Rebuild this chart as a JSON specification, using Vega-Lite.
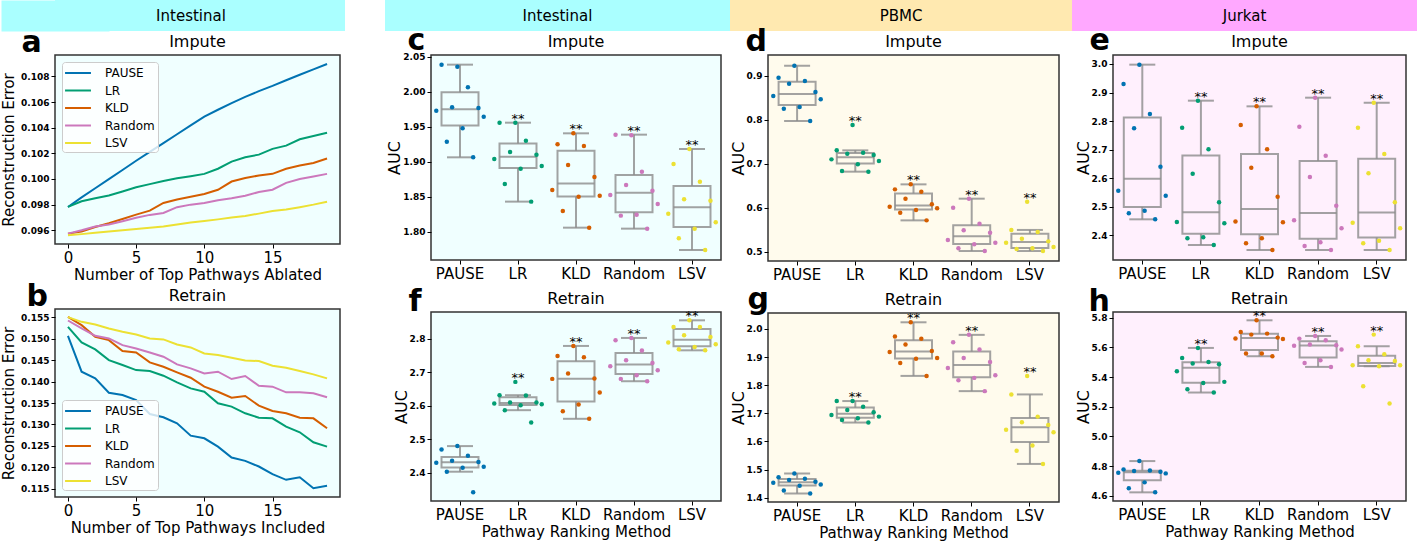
{
"$schema": "https://vega.github.io/schema/vega-lite/v6.json",
"padding": 0,
"background": "white",
"config": {
 "font": "DejaVu Sans",
 "view": {"stroke": "#333333", "strokeWidth": 1.5},
 "axis": {"domain": false, "grid": false, "tickColor": "#000000", "tickSize": 4, "labelColor": "#000000", "titleColor": "#000000", "titleFontWeight": "normal", "labelPadding": 2},
 "axisX": {"labelFontSize": 15, "titleFontSize": 15, "labelAngle": 0, "titlePadding": 2},
 "axisY": {"labelFontSize": 9, "labelFontWeight": "bold", "titleFontSize": 16, "titlePadding": 0},
 "title": {"fontSize": 16, "fontWeight": "normal", "color": "#000000", "offset": 3},
 "text": {"color": "#000000"}
},
"datasets": {
 "H": [{"g": "h1", "label": "Intestinal"}, {"g": "h2", "label": "Intestinal"}, {"g": "h3", "label": "PBMC"}, {"g": "h4", "label": "Jurkat"}],
 "L": [
  {"p":"a","m":"PAUSE","k":0,"v":0.09782},{"p":"a","m":"PAUSE","k":1,"v":0.09857},{"p":"a","m":"PAUSE","k":2,"v":0.09928},{"p":"a","m":"PAUSE","k":3,"v":0.09999},{"p":"a","m":"PAUSE","k":4,"v":0.10070},{"p":"a","m":"PAUSE","k":5,"v":0.10142},{"p":"a","m":"PAUSE","k":6,"v":0.10211},{"p":"a","m":"PAUSE","k":7,"v":0.10280},{"p":"a","m":"PAUSE","k":8,"v":0.10349},{"p":"a","m":"PAUSE","k":9,"v":0.10418},{"p":"a","m":"PAUSE","k":10,"v":0.10486},{"p":"a","m":"PAUSE","k":11,"v":0.10540},{"p":"a","m":"PAUSE","k":12,"v":0.10592},{"p":"a","m":"PAUSE","k":13,"v":0.10640},{"p":"a","m":"PAUSE","k":14,"v":0.10685},{"p":"a","m":"PAUSE","k":15,"v":0.10726},{"p":"a","m":"PAUSE","k":16,"v":0.10770},{"p":"a","m":"PAUSE","k":17,"v":0.10813},{"p":"a","m":"PAUSE","k":18,"v":0.10855},{"p":"a","m":"PAUSE","k":19,"v":0.10897},
  {"p":"a","m":"LR","k":0,"v":0.09782},{"p":"a","m":"LR","k":1,"v":0.09826},{"p":"a","m":"LR","k":2,"v":0.09850},{"p":"a","m":"LR","k":3,"v":0.09872},{"p":"a","m":"LR","k":4,"v":0.09903},{"p":"a","m":"LR","k":5,"v":0.09935},{"p":"a","m":"LR","k":6,"v":0.09960},{"p":"a","m":"LR","k":7,"v":0.09985},{"p":"a","m":"LR","k":8,"v":0.10005},{"p":"a","m":"LR","k":9,"v":0.10022},{"p":"a","m":"LR","k":10,"v":0.10040},{"p":"a","m":"LR","k":11,"v":0.10080},{"p":"a","m":"LR","k":12,"v":0.10136},{"p":"a","m":"LR","k":13,"v":0.10170},{"p":"a","m":"LR","k":14,"v":0.10190},{"p":"a","m":"LR","k":15,"v":0.10235},{"p":"a","m":"LR","k":16,"v":0.10260},{"p":"a","m":"LR","k":17,"v":0.10310},{"p":"a","m":"LR","k":18,"v":0.10335},{"p":"a","m":"LR","k":19,"v":0.10361},
  {"p":"a","m":"KLD","k":0,"v":0.09574},{"p":"a","m":"KLD","k":1,"v":0.09590},{"p":"a","m":"KLD","k":2,"v":0.09625},{"p":"a","m":"KLD","k":3,"v":0.09655},{"p":"a","m":"KLD","k":4,"v":0.09688},{"p":"a","m":"KLD","k":5,"v":0.09722},{"p":"a","m":"KLD","k":6,"v":0.09753},{"p":"a","m":"KLD","k":7,"v":0.09813},{"p":"a","m":"KLD","k":8,"v":0.09840},{"p":"a","m":"KLD","k":9,"v":0.09862},{"p":"a","m":"KLD","k":10,"v":0.09883},{"p":"a","m":"KLD","k":11,"v":0.09916},{"p":"a","m":"KLD","k":12,"v":0.09980},{"p":"a","m":"KLD","k":13,"v":0.10007},{"p":"a","m":"KLD","k":14,"v":0.10028},{"p":"a","m":"KLD","k":15,"v":0.10040},{"p":"a","m":"KLD","k":16,"v":0.10080},{"p":"a","m":"KLD","k":17,"v":0.10105},{"p":"a","m":"KLD","k":18,"v":0.10125},{"p":"a","m":"KLD","k":19,"v":0.10160},
  {"p":"a","m":"Random","k":0,"v":0.09574},{"p":"a","m":"Random","k":1,"v":0.09600},{"p":"a","m":"Random","k":2,"v":0.09630},{"p":"a","m":"Random","k":3,"v":0.09645},{"p":"a","m":"Random","k":4,"v":0.09670},{"p":"a","m":"Random","k":5,"v":0.09697},{"p":"a","m":"Random","k":6,"v":0.09720},{"p":"a","m":"Random","k":7,"v":0.09735},{"p":"a","m":"Random","k":8,"v":0.09780},{"p":"a","m":"Random","k":9,"v":0.09800},{"p":"a","m":"Random","k":10,"v":0.09813},{"p":"a","m":"Random","k":11,"v":0.09835},{"p":"a","m":"Random","k":12,"v":0.09850},{"p":"a","m":"Random","k":13,"v":0.09870},{"p":"a","m":"Random","k":14,"v":0.09898},{"p":"a","m":"Random","k":15,"v":0.09916},{"p":"a","m":"Random","k":16,"v":0.09970},{"p":"a","m":"Random","k":17,"v":0.10000},{"p":"a","m":"Random","k":18,"v":0.10020},{"p":"a","m":"Random","k":19,"v":0.10040},
  {"p":"a","m":"LSV","k":0,"v":0.09561},{"p":"a","m":"LSV","k":1,"v":0.09570},{"p":"a","m":"LSV","k":2,"v":0.09580},{"p":"a","m":"LSV","k":3,"v":0.09590},{"p":"a","m":"LSV","k":4,"v":0.09600},{"p":"a","m":"LSV","k":5,"v":0.09610},{"p":"a","m":"LSV","k":6,"v":0.09620},{"p":"a","m":"LSV","k":7,"v":0.09630},{"p":"a","m":"LSV","k":8,"v":0.09645},{"p":"a","m":"LSV","k":9,"v":0.09660},{"p":"a","m":"LSV","k":10,"v":0.09672},{"p":"a","m":"LSV","k":11,"v":0.09685},{"p":"a","m":"LSV","k":12,"v":0.09700},{"p":"a","m":"LSV","k":13,"v":0.09712},{"p":"a","m":"LSV","k":14,"v":0.09730},{"p":"a","m":"LSV","k":15,"v":0.09750},{"p":"a","m":"LSV","k":16,"v":0.09762},{"p":"a","m":"LSV","k":17,"v":0.09780},{"p":"a","m":"LSV","k":18,"v":0.09800},{"p":"a","m":"LSV","k":19,"v":0.09823},
  {"p":"b","m":"PAUSE","k":0,"v":0.15066},{"p":"b","m":"PAUSE","k":1,"v":0.14229},{"p":"b","m":"PAUSE","k":2,"v":0.14074},{"p":"b","m":"PAUSE","k":3,"v":0.13740},{"p":"b","m":"PAUSE","k":4,"v":0.13686},{"p":"b","m":"PAUSE","k":5,"v":0.13570},{"p":"b","m":"PAUSE","k":6,"v":0.13244},{"p":"b","m":"PAUSE","k":7,"v":0.13167},{"p":"b","m":"PAUSE","k":8,"v":0.13027},{"p":"b","m":"PAUSE","k":9,"v":0.12740},{"p":"b","m":"PAUSE","k":10,"v":0.12678},{"p":"b","m":"PAUSE","k":11,"v":0.12484},{"p":"b","m":"PAUSE","k":12,"v":0.12229},{"p":"b","m":"PAUSE","k":13,"v":0.12151},{"p":"b","m":"PAUSE","k":14,"v":0.12020},{"p":"b","m":"PAUSE","k":15,"v":0.11841},{"p":"b","m":"PAUSE","k":16,"v":0.11710},{"p":"b","m":"PAUSE","k":17,"v":0.11771},{"p":"b","m":"PAUSE","k":18,"v":0.11516},{"p":"b","m":"PAUSE","k":19,"v":0.11570},
  {"p":"b","m":"LR","k":0,"v":0.15275},{"p":"b","m":"LR","k":1,"v":0.14911},{"p":"b","m":"LR","k":2,"v":0.14748},{"p":"b","m":"LR","k":3,"v":0.14500},{"p":"b","m":"LR","k":4,"v":0.14384},{"p":"b","m":"LR","k":5,"v":0.14267},{"p":"b","m":"LR","k":6,"v":0.14244},{"p":"b","m":"LR","k":7,"v":0.14136},{"p":"b","m":"LR","k":8,"v":0.13980},{"p":"b","m":"LR","k":9,"v":0.13840},{"p":"b","m":"LR","k":10,"v":0.13763},{"p":"b","m":"LR","k":11,"v":0.13492},{"p":"b","m":"LR","k":12,"v":0.13415},{"p":"b","m":"LR","k":13,"v":0.13260},{"p":"b","m":"LR","k":14,"v":0.13159},{"p":"b","m":"LR","k":15,"v":0.13143},{"p":"b","m":"LR","k":16,"v":0.12950},{"p":"b","m":"LR","k":17,"v":0.12818},{"p":"b","m":"LR","k":18,"v":0.12585},{"p":"b","m":"LR","k":19,"v":0.12484},
  {"p":"b","m":"KLD","k":0,"v":0.15508},{"p":"b","m":"KLD","k":1,"v":0.15314},{"p":"b","m":"KLD","k":2,"v":0.15043},{"p":"b","m":"KLD","k":3,"v":0.14965},{"p":"b","m":"KLD","k":4,"v":0.14709},{"p":"b","m":"KLD","k":5,"v":0.14678},{"p":"b","m":"KLD","k":6,"v":0.14446},{"p":"b","m":"KLD","k":7,"v":0.14345},{"p":"b","m":"KLD","k":8,"v":0.14213},{"p":"b","m":"KLD","k":9,"v":0.14089},{"p":"b","m":"KLD","k":10,"v":0.13880},{"p":"b","m":"KLD","k":11,"v":0.13763},{"p":"b","m":"KLD","k":12,"v":0.13624},{"p":"b","m":"KLD","k":13,"v":0.13663},{"p":"b","m":"KLD","k":14,"v":0.13438},{"p":"b","m":"KLD","k":15,"v":0.13314},{"p":"b","m":"KLD","k":16,"v":0.13260},{"p":"b","m":"KLD","k":17,"v":0.13159},{"p":"b","m":"KLD","k":18,"v":0.13143},{"p":"b","m":"KLD","k":19,"v":0.12911},
  {"p":"b","m":"Random","k":0,"v":0.15422},{"p":"b","m":"Random","k":1,"v":0.15236},{"p":"b","m":"Random","k":2,"v":0.15066},{"p":"b","m":"Random","k":3,"v":0.15004},{"p":"b","m":"Random","k":4,"v":0.14849},{"p":"b","m":"Random","k":5,"v":0.14771},{"p":"b","m":"Random","k":6,"v":0.14678},{"p":"b","m":"Random","k":7,"v":0.14578},{"p":"b","m":"Random","k":8,"v":0.14400},{"p":"b","m":"Random","k":9,"v":0.14306},{"p":"b","m":"Random","k":10,"v":0.14190},{"p":"b","m":"Random","k":11,"v":0.14229},{"p":"b","m":"Random","k":12,"v":0.14058},{"p":"b","m":"Random","k":13,"v":0.14128},{"p":"b","m":"Random","k":14,"v":0.13903},{"p":"b","m":"Random","k":15,"v":0.13880},{"p":"b","m":"Random","k":16,"v":0.13748},{"p":"b","m":"Random","k":17,"v":0.13748},{"p":"b","m":"Random","k":18,"v":0.13725},{"p":"b","m":"Random","k":19,"v":0.13632},
  {"p":"b","m":"LSV","k":0,"v":0.15500},{"p":"b","m":"LSV","k":1,"v":0.15391},{"p":"b","m":"LSV","k":2,"v":0.15329},{"p":"b","m":"LSV","k":3,"v":0.15236},{"p":"b","m":"LSV","k":4,"v":0.15159},{"p":"b","m":"LSV","k":5,"v":0.15097},{"p":"b","m":"LSV","k":6,"v":0.15004},{"p":"b","m":"LSV","k":7,"v":0.14981},{"p":"b","m":"LSV","k":8,"v":0.14864},{"p":"b","m":"LSV","k":9,"v":0.14795},{"p":"b","m":"LSV","k":10,"v":0.14655},{"p":"b","m":"LSV","k":11,"v":0.14616},{"p":"b","m":"LSV","k":12,"v":0.14554},{"p":"b","m":"LSV","k":13,"v":0.14492},{"p":"b","m":"LSV","k":14,"v":0.14477},{"p":"b","m":"LSV","k":15,"v":0.14368},{"p":"b","m":"LSV","k":16,"v":0.14322},{"p":"b","m":"LSV","k":17,"v":0.14244},{"p":"b","m":"LSV","k":18,"v":0.14167},{"p":"b","m":"LSV","k":19,"v":0.14074}
 ],
 "B": [
  {"p":"c","m":"PAUSE","r":1,"v":2.0357},{"p":"c","m":"PAUSE","r":2,"v":2.0386},{"p":"c","m":"PAUSE","r":3,"v":2.0062},{"p":"c","m":"PAUSE","r":4,"v":1.9776},{"p":"c","m":"PAUSE","r":5,"v":1.9767},{"p":"c","m":"PAUSE","r":6,"v":1.9729},{"p":"c","m":"PAUSE","r":7,"v":1.9643},{"p":"c","m":"PAUSE","r":8,"v":1.9476},{"p":"c","m":"PAUSE","r":9,"v":1.9286},{"p":"c","m":"PAUSE","r":10,"v":1.9062},
  {"p":"c","m":"LR","r":1,"v":1.9557},{"p":"c","m":"LR","r":2,"v":1.9557},{"p":"c","m":"LR","r":3,"v":1.9300},{"p":"c","m":"LR","r":4,"v":1.9138},{"p":"c","m":"LR","r":5,"v":1.9100},{"p":"c","m":"LR","r":6,"v":1.9038},{"p":"c","m":"LR","r":7,"v":1.8938},{"p":"c","m":"LR","r":8,"v":1.8900},{"p":"c","m":"LR","r":9,"v":1.8681},{"p":"c","m":"LR","r":10,"v":1.8429},
  {"p":"c","m":"KLD","r":1,"v":1.9405},{"p":"c","m":"KLD","r":2,"v":1.9248},{"p":"c","m":"KLD","r":3,"v":1.9224},{"p":"c","m":"KLD","r":4,"v":1.8952},{"p":"c","m":"KLD","r":5,"v":1.8781},{"p":"c","m":"KLD","r":6,"v":1.8595},{"p":"c","m":"KLD","r":7,"v":1.8514},{"p":"c","m":"KLD","r":8,"v":1.8500},{"p":"c","m":"KLD","r":9,"v":1.8295},{"p":"c","m":"KLD","r":10,"v":1.8057},
  {"p":"c","m":"Random","r":1,"v":1.9376},{"p":"c","m":"Random","r":2,"v":1.9386},{"p":"c","m":"Random","r":3,"v":1.8857},{"p":"c","m":"Random","r":4,"v":1.8667},{"p":"c","m":"Random","r":5,"v":1.8586},{"p":"c","m":"Random","r":6,"v":1.8524},{"p":"c","m":"Random","r":7,"v":1.8395},{"p":"c","m":"Random","r":8,"v":1.8240},{"p":"c","m":"Random","r":9,"v":1.8229},{"p":"c","m":"Random","r":10,"v":1.8043},
  {"p":"c","m":"LSV","r":1,"v":1.9181},{"p":"c","m":"LSV","r":2,"v":1.8967},{"p":"c","m":"LSV","r":3,"v":1.8714},{"p":"c","m":"LSV","r":4,"v":1.8462},{"p":"c","m":"LSV","r":5,"v":1.8443},{"p":"c","m":"LSV","r":6,"v":1.8257},{"p":"c","m":"LSV","r":7,"v":1.8133},{"p":"c","m":"LSV","r":8,"v":1.8043},{"p":"c","m":"LSV","r":9,"v":1.7905},{"p":"c","m":"LSV","r":10,"v":1.7738},
  {"p":"f","m":"PAUSE","r":1,"v":2.4796},{"p":"f","m":"PAUSE","r":2,"v":2.4697},{"p":"f","m":"PAUSE","r":3,"v":2.4507},{"p":"f","m":"PAUSE","r":4,"v":2.4358},{"p":"f","m":"PAUSE","r":5,"v":2.4320},{"p":"f","m":"PAUSE","r":6,"v":2.4300},{"p":"f","m":"PAUSE","r":7,"v":2.4179},{"p":"f","m":"PAUSE","r":8,"v":2.4149},{"p":"f","m":"PAUSE","r":9,"v":2.4030},{"p":"f","m":"PAUSE","r":10,"v":2.3413},
  {"p":"f","m":"LR","r":1,"v":2.6716},{"p":"f","m":"LR","r":2,"v":2.6318},{"p":"f","m":"LR","r":3,"v":2.6308},{"p":"f","m":"LR","r":4,"v":2.6100},{"p":"f","m":"LR","r":5,"v":2.6100},{"p":"f","m":"LR","r":6,"v":2.6070},{"p":"f","m":"LR","r":7,"v":2.6050},{"p":"f","m":"LR","r":8,"v":2.6020},{"p":"f","m":"LR","r":9,"v":2.5870},{"p":"f","m":"LR","r":10,"v":2.5502},
  {"p":"f","m":"KLD","r":1,"v":2.7791},{"p":"f","m":"KLD","r":2,"v":2.7493},{"p":"f","m":"KLD","r":3,"v":2.7453},{"p":"f","m":"KLD","r":4,"v":2.6965},{"p":"f","m":"KLD","r":5,"v":2.6816},{"p":"f","m":"KLD","r":6,"v":2.6806},{"p":"f","m":"KLD","r":7,"v":2.6398},{"p":"f","m":"KLD","r":8,"v":2.6040},{"p":"f","m":"KLD","r":9,"v":2.5841},{"p":"f","m":"KLD","r":10,"v":2.5612},
  {"p":"f","m":"Random","r":1,"v":2.8030},{"p":"f","m":"Random","r":2,"v":2.7960},{"p":"f","m":"Random","r":3,"v":2.7652},{"p":"f","m":"Random","r":4,"v":2.7363},{"p":"f","m":"Random","r":5,"v":2.7284},{"p":"f","m":"Random","r":6,"v":2.7184},{"p":"f","m":"Random","r":7,"v":2.7065},{"p":"f","m":"Random","r":8,"v":2.6915},{"p":"f","m":"Random","r":9,"v":2.6806},{"p":"f","m":"Random","r":10,"v":2.6736},
  {"p":"f","m":"LSV","r":1,"v":2.8557},{"p":"f","m":"LSV","r":2,"v":2.8358},{"p":"f","m":"LSV","r":3,"v":2.8358},{"p":"f","m":"LSV","r":4,"v":2.8109},{"p":"f","m":"LSV","r":5,"v":2.8060},{"p":"f","m":"LSV","r":6,"v":2.7891},{"p":"f","m":"LSV","r":7,"v":2.7841},{"p":"f","m":"LSV","r":8,"v":2.7761},{"p":"f","m":"LSV","r":9,"v":2.7692},{"p":"f","m":"LSV","r":10,"v":2.7660},
  {"p":"d","m":"PAUSE","r":1,"v":0.9235},{"p":"d","m":"PAUSE","r":2,"v":0.8962},{"p":"d","m":"PAUSE","r":3,"v":0.8886},{"p":"d","m":"PAUSE","r":4,"v":0.8825},{"p":"d","m":"PAUSE","r":5,"v":0.8636},{"p":"d","m":"PAUSE","r":6,"v":0.8545},{"p":"d","m":"PAUSE","r":7,"v":0.8469},{"p":"d","m":"PAUSE","r":8,"v":0.8294},{"p":"d","m":"PAUSE","r":9,"v":0.8256},{"p":"d","m":"PAUSE","r":10,"v":0.7975},
  {"p":"d","m":"LR","r":1,"v":0.7884},{"p":"d","m":"LR","r":2,"v":0.7307},{"p":"d","m":"LR","r":3,"v":0.7254},{"p":"d","m":"LR","r":4,"v":0.7231},{"p":"d","m":"LR","r":5,"v":0.7201},{"p":"d","m":"LR","r":6,"v":0.7102},{"p":"d","m":"LR","r":7,"v":0.7065},{"p":"d","m":"LR","r":8,"v":0.6989},{"p":"d","m":"LR","r":9,"v":0.6837},{"p":"d","m":"LR","r":10,"v":0.6822},
  {"p":"d","m":"KLD","r":1,"v":0.6533},{"p":"d","m":"KLD","r":2,"v":0.6419},{"p":"d","m":"KLD","r":3,"v":0.6366},{"p":"d","m":"KLD","r":4,"v":0.6207},{"p":"d","m":"KLD","r":5,"v":0.6078},{"p":"d","m":"KLD","r":6,"v":0.6025},{"p":"d","m":"KLD","r":7,"v":0.5987},{"p":"d","m":"KLD","r":8,"v":0.5949},{"p":"d","m":"KLD","r":9,"v":0.5888},{"p":"d","m":"KLD","r":10,"v":0.5713},
  {"p":"d","m":"Random","r":1,"v":0.6207},{"p":"d","m":"Random","r":2,"v":0.6002},{"p":"d","m":"Random","r":3,"v":0.5638},{"p":"d","m":"Random","r":4,"v":0.5486},{"p":"d","m":"Random","r":5,"v":0.5433},{"p":"d","m":"Random","r":6,"v":0.5266},{"p":"d","m":"Random","r":7,"v":0.5205},{"p":"d","m":"Random","r":8,"v":0.5167},{"p":"d","m":"Random","r":9,"v":0.5076},{"p":"d","m":"Random","r":10,"v":0.5015},
  {"p":"d","m":"LSV","r":1,"v":0.6138},{"p":"d","m":"LSV","r":2,"v":0.5495},{"p":"d","m":"LSV","r":3,"v":0.5449},{"p":"d","m":"LSV","r":4,"v":0.5296},{"p":"d","m":"LSV","r":5,"v":0.5235},{"p":"d","m":"LSV","r":6,"v":0.5205},{"p":"d","m":"LSV","r":7,"v":0.5106},{"p":"d","m":"LSV","r":8,"v":0.5076},{"p":"d","m":"LSV","r":9,"v":0.5061},{"p":"d","m":"LSV","r":10,"v":0.5015},
  {"p":"g","m":"PAUSE","r":1,"v":1.4859},{"p":"g","m":"PAUSE","r":2,"v":1.4729},{"p":"g","m":"PAUSE","r":3,"v":1.4677},{"p":"g","m":"PAUSE","r":4,"v":1.4628},{"p":"g","m":"PAUSE","r":5,"v":1.4569},{"p":"g","m":"PAUSE","r":6,"v":1.4534},{"p":"g","m":"PAUSE","r":7,"v":1.4467},{"p":"g","m":"PAUSE","r":8,"v":1.4423},{"p":"g","m":"PAUSE","r":9,"v":1.4259},{"p":"g","m":"PAUSE","r":10,"v":1.4153},
  {"p":"g","m":"LR","r":1,"v":1.7435},{"p":"g","m":"LR","r":2,"v":1.7435},{"p":"g","m":"LR","r":3,"v":1.7235},{"p":"g","m":"LR","r":4,"v":1.7118},{"p":"g","m":"LR","r":5,"v":1.7035},{"p":"g","m":"LR","r":6,"v":1.6941},{"p":"g","m":"LR","r":7,"v":1.6882},{"p":"g","m":"LR","r":8,"v":1.6824},{"p":"g","m":"LR","r":9,"v":1.6765},{"p":"g","m":"LR","r":10,"v":1.6671},
  {"p":"g","m":"KLD","r":1,"v":2.0235},{"p":"g","m":"KLD","r":2,"v":1.9729},{"p":"g","m":"KLD","r":3,"v":1.9647},{"p":"g","m":"KLD","r":4,"v":1.9447},{"p":"g","m":"KLD","r":5,"v":1.9212},{"p":"g","m":"KLD","r":6,"v":1.9176},{"p":"g","m":"KLD","r":7,"v":1.8965},{"p":"g","m":"KLD","r":8,"v":1.8941},{"p":"g","m":"KLD","r":9,"v":1.8788},{"p":"g","m":"KLD","r":10,"v":1.8329},
  {"p":"g","m":"Random","r":1,"v":1.9788},{"p":"g","m":"Random","r":2,"v":1.9529},{"p":"g","m":"Random","r":3,"v":1.9271},{"p":"g","m":"Random","r":4,"v":1.8965},{"p":"g","m":"Random","r":5,"v":1.8824},{"p":"g","m":"Random","r":6,"v":1.8612},{"p":"g","m":"Random","r":7,"v":1.8353},{"p":"g","m":"Random","r":8,"v":1.8259},{"p":"g","m":"Random","r":9,"v":1.8176},{"p":"g","m":"Random","r":10,"v":1.7788},
  {"p":"g","m":"LSV","r":1,"v":1.8329},{"p":"g","m":"LSV","r":2,"v":1.7671},{"p":"g","m":"LSV","r":3,"v":1.6882},{"p":"g","m":"LSV","r":4,"v":1.6682},{"p":"g","m":"LSV","r":5,"v":1.6588},{"p":"g","m":"LSV","r":6,"v":1.6412},{"p":"g","m":"LSV","r":7,"v":1.6329},{"p":"g","m":"LSV","r":8,"v":1.5859},{"p":"g","m":"LSV","r":9,"v":1.5671},{"p":"g","m":"LSV","r":10,"v":1.5200},
  {"p":"e","m":"PAUSE","r":1,"v":2.9977},{"p":"e","m":"PAUSE","r":2,"v":2.9300},{"p":"e","m":"PAUSE","r":3,"v":2.8250},{"p":"e","m":"PAUSE","r":4,"v":2.7748},{"p":"e","m":"PAUSE","r":5,"v":2.6406},{"p":"e","m":"PAUSE","r":6,"v":2.5566},{"p":"e","m":"PAUSE","r":7,"v":2.5391},{"p":"e","m":"PAUSE","r":8,"v":2.4866},{"p":"e","m":"PAUSE","r":9,"v":2.4773},{"p":"e","m":"PAUSE","r":10,"v":2.4563},
  {"p":"e","m":"LR","r":1,"v":2.8716},{"p":"e","m":"LR","r":2,"v":2.7771},{"p":"e","m":"LR","r":3,"v":2.7013},{"p":"e","m":"LR","r":4,"v":2.6161},{"p":"e","m":"LR","r":5,"v":2.5158},{"p":"e","m":"LR","r":6,"v":2.4469},{"p":"e","m":"LR","r":7,"v":2.4422},{"p":"e","m":"LR","r":8,"v":2.3932},{"p":"e","m":"LR","r":9,"v":2.3897},{"p":"e","m":"LR","r":10,"v":2.3664},
  {"p":"e","m":"KLD","r":1,"v":2.8518},{"p":"e","m":"KLD","r":2,"v":2.7865},{"p":"e","m":"KLD","r":3,"v":2.7013},{"p":"e","m":"KLD","r":4,"v":2.6371},{"p":"e","m":"KLD","r":5,"v":2.5356},{"p":"e","m":"KLD","r":6,"v":2.4484},{"p":"e","m":"KLD","r":7,"v":2.4457},{"p":"e","m":"KLD","r":8,"v":2.3897},{"p":"e","m":"KLD","r":9,"v":2.3722},{"p":"e","m":"KLD","r":10,"v":2.3489},
  {"p":"e","m":"Random","r":1,"v":2.8821},{"p":"e","m":"Random","r":2,"v":2.7806},{"p":"e","m":"Random","r":3,"v":2.6791},{"p":"e","m":"Random","r":4,"v":2.6044},{"p":"e","m":"Random","r":5,"v":2.5041},{"p":"e","m":"Random","r":6,"v":2.4527},{"p":"e","m":"Random","r":7,"v":2.4247},{"p":"e","m":"Random","r":8,"v":2.3757},{"p":"e","m":"Random","r":9,"v":2.3629},{"p":"e","m":"Random","r":10,"v":2.3489},
  {"p":"e","m":"LSV","r":1,"v":2.8646},{"p":"e","m":"LSV","r":2,"v":2.7771},{"p":"e","m":"LSV","r":3,"v":2.6849},{"p":"e","m":"LSV","r":4,"v":2.6173},{"p":"e","m":"LSV","r":5,"v":2.5158},{"p":"e","m":"LSV","r":6,"v":2.4446},{"p":"e","m":"LSV","r":7,"v":2.4247},{"p":"e","m":"LSV","r":8,"v":2.3816},{"p":"e","m":"LSV","r":9,"v":2.3722},{"p":"e","m":"LSV","r":10,"v":2.3489},
  {"p":"h","m":"PAUSE","r":1,"v":4.8336},{"p":"h","m":"PAUSE","r":2,"v":4.7776},{"p":"h","m":"PAUSE","r":3,"v":4.7700},{"p":"h","m":"PAUSE","r":4,"v":4.7664},{"p":"h","m":"PAUSE","r":5,"v":4.7619},{"p":"h","m":"PAUSE","r":6,"v":4.7552},{"p":"h","m":"PAUSE","r":7,"v":4.7507},{"p":"h","m":"PAUSE","r":8,"v":4.6901},{"p":"h","m":"PAUSE","r":9,"v":4.6498},{"p":"h","m":"PAUSE","r":10,"v":4.6229},
  {"p":"h","m":"LR","r":1,"v":5.5960},{"p":"h","m":"LR","r":2,"v":5.5287},{"p":"h","m":"LR","r":3,"v":5.5018},{"p":"h","m":"LR","r":4,"v":5.4906},{"p":"h","m":"LR","r":5,"v":5.4861},{"p":"h","m":"LR","r":6,"v":5.4390},{"p":"h","m":"LR","r":7,"v":5.3673},{"p":"h","m":"LR","r":8,"v":5.3600},{"p":"h","m":"LR","r":9,"v":5.3180},{"p":"h","m":"LR","r":10,"v":5.2955},
  {"p":"h","m":"KLD","r":1,"v":5.7821},{"p":"h","m":"KLD","r":2,"v":5.7036},{"p":"h","m":"KLD","r":3,"v":5.6924},{"p":"h","m":"KLD","r":4,"v":5.6857},{"p":"h","m":"KLD","r":5,"v":5.6655},{"p":"h","m":"KLD","r":6,"v":5.6600},{"p":"h","m":"KLD","r":7,"v":5.6565},{"p":"h","m":"KLD","r":8,"v":5.5578},{"p":"h","m":"KLD","r":9,"v":5.5578},{"p":"h","m":"KLD","r":10,"v":5.5400},
  {"p":"h","m":"Random","r":1,"v":5.6767},{"p":"h","m":"Random","r":2,"v":5.6587},{"p":"h","m":"Random","r":3,"v":5.6475},{"p":"h","m":"Random","r":4,"v":5.6184},{"p":"h","m":"Random","r":5,"v":5.6139},{"p":"h","m":"Random","r":6,"v":5.6100},{"p":"h","m":"Random","r":7,"v":5.5848},{"p":"h","m":"Random","r":8,"v":5.5130},{"p":"h","m":"Random","r":9,"v":5.4951},{"p":"h","m":"Random","r":10,"v":5.4682},
  {"p":"h","m":"LSV","r":1,"v":5.6857},{"p":"h","m":"LSV","r":2,"v":5.6072},{"p":"h","m":"LSV","r":3,"v":5.5534},{"p":"h","m":"LSV","r":4,"v":5.5130},{"p":"h","m":"LSV","r":5,"v":5.5085},{"p":"h","m":"LSV","r":6,"v":5.4800},{"p":"h","m":"LSV","r":7,"v":5.4794},{"p":"h","m":"LSV","r":8,"v":5.4727},{"p":"h","m":"LSV","r":9,"v":5.3381},{"p":"h","m":"LSV","r":10,"v":5.2215}
 ]
},
"columns": 1,
"align": "none",
"spacing": -7,
"resolve": {"scale": {"color": "independent"}, "legend": {"color": "independent"}},
"concat": [
 {
  "spacing": 40,
  "hconcat": [
   {"width": 290, "height": 31, "view": {"fill": "#aaffff", "stroke": null}, "data": {"name": "H"}, "transform": [{"filter": "datum.g == 'h1'"}], "mark": {"type": "text", "fontSize": 15, "dx": -9},
    "encoding": {"text": {"field": "label"}, "y": {"field": "label", "type": "nominal", "axis": {"orient": "left", "domain": true, "domainColor": "#aaffff", "domainWidth": 108, "ticks": false, "labels": false, "title": null, "grid": false}}}},
   {
    "spacing": 0,
    "hconcat": [
     {"width": 345, "height": 31, "view": {"fill": "#aaffff", "stroke": null}, "data": {"name": "H"}, "transform": [{"filter": "datum.g == 'h2'"}], "mark": {"type": "text", "fontSize": 15}, "encoding": {"text": {"field": "label"}}},
     {"width": 342, "height": 31, "view": {"fill": "#ffe9b0", "stroke": null}, "data": {"name": "H"}, "transform": [{"filter": "datum.g == 'h3'"}], "mark": {"type": "text", "fontSize": 15}, "encoding": {"text": {"field": "label"}}},
     {"width": 345, "height": 31, "view": {"fill": "#ffa8ff", "stroke": null}, "data": {"name": "H"}, "transform": [{"filter": "datum.g == 'h4'"}], "mark": {"type": "text", "fontSize": 15}, "encoding": {"text": {"field": "label"}}}
    ]
   }
  ]
 },
 {
  "spacing": 45,
  "resolve": {"scale": {"color": "independent"}, "legend": {"color": "independent"}},
  "hconcat": [
   {
    "spacing": -3,
    "resolve": {"scale": {"color": "independent"}, "legend": {"color": "independent"}},
    "vconcat": [
     {
      "width": 285, "height": 189,
      "view": {"fill": "#f0ffff"},
      "title": {"text": "Impute", "offset": -23},
      "data": {"name": "L"},
      "transform": [{"filter": "datum.p == 'a'"}],
      "encoding": {"x": {"field": "k", "type": "quantitative", "scale": {"domain": [-0.95, 19.95], "nice": false, "zero": false}, "axis": {"values": [0, 5, 10, 15], "title": "Number of Top Pathways Ablated"}}},
      "layer": [
       {"mark": {"type": "line", "strokeWidth": 2},
        "encoding": {
         "y": {"field": "v", "type": "quantitative", "scale": {"domain": [0.09493, 0.10967], "nice": false, "zero": false}, "axis": {"values": [0.096, 0.098, 0.1, 0.102, 0.104, 0.106, 0.108], "format": ".3f", "title": "Reconstruction Error", "titleFontSize": 15, "titlePadding": 4}},
         "color": {"field": "m", "type": "nominal", "scale": {"domain": ["PAUSE", "LR", "KLD", "Random", "LSV"], "range": ["#0173b2", "#029e73", "#d55e00", "#cc78bc", "#ece133"]},
          "legend": {"title": null, "orient": "top-left", "offset": 7, "padding": 3, "fillColor": "rgba(255,255,255,0.8)", "strokeColor": "#cccccc", "cornerRadius": 3, "symbolType": "M-1.85,0L1.85,0", "symbolSize": 196, "symbolStrokeWidth": 2, "symbolOffset": 5, "labelFontSize": 12, "labelOffset": 19, "rowPadding": 3.5, "labelColor": "#000000"}}
        }},
       {"mark": {"type": "point", "opacity": 0},
        "encoding": {"y": {"field": "v", "type": "quantitative", "axis": {"orient": "left", "title": "a", "titleAngle": 0, "titleX": -34, "titleY": -4, "titleAlign": "left", "titleBaseline": "alphabetic", "titleFontSize": 30, "titleFontWeight": "bold", "labels": false, "ticks": false, "domain": false}}}}
      ],
      "resolve": {"axis": {"y": "independent"}}
     },
     {
      "width": 285, "height": 188,
      "view": {"fill": "#f0ffff"},
      "title": {"text": "Retrain", "offset": -23},
      "data": {"name": "L"},
      "transform": [{"filter": "datum.p == 'b'"}],
      "encoding": {"x": {"field": "k", "type": "quantitative", "scale": {"domain": [-0.95, 19.95], "nice": false, "zero": false}, "axis": {"values": [0, 5, 10, 15], "title": "Number of Top Pathways Included"}}},
      "layer": [
       {"mark": {"type": "line", "strokeWidth": 2},
        "encoding": {
         "y": {"field": "v", "type": "quantitative", "scale": {"domain": [0.1131, 0.1569], "nice": false, "zero": false}, "axis": {"values": [0.115, 0.12, 0.125, 0.13, 0.135, 0.14, 0.145, 0.15, 0.155], "format": ".3f", "title": "Reconstruction Error", "titleFontSize": 15, "titlePadding": 4}},
         "color": {"field": "m", "type": "nominal", "scale": {"domain": ["PAUSE", "LR", "KLD", "Random", "LSV"], "range": ["#0173b2", "#029e73", "#d55e00", "#cc78bc", "#ece133"]},
          "legend": {"title": null, "orient": "bottom-left", "offset": 7, "padding": 3, "fillColor": "rgba(255,255,255,0.8)", "strokeColor": "#cccccc", "cornerRadius": 3, "symbolType": "M-1.85,0L1.85,0", "symbolSize": 196, "symbolStrokeWidth": 2, "symbolOffset": 5, "labelFontSize": 12, "labelOffset": 19, "rowPadding": 3.5, "labelColor": "#000000"}}
        }},
       {"mark": {"type": "point", "opacity": 0},
        "encoding": {"y": {"field": "v", "type": "quantitative", "axis": {"orient": "left", "title": "b", "titleAngle": 0, "titleX": -29, "titleY": -4, "titleAlign": "left", "titleBaseline": "alphabetic", "titleFontSize": 30, "titleFontWeight": "bold", "labels": false, "ticks": false, "domain": false}}}}
      ],
      "resolve": {"axis": {"y": "independent"}}
     }
    ]
   },
   {
    "spacing": 7,
    "resolve": {"scale": {"color": "independent"}, "legend": {"color": "independent"}},
    "hconcat": [
     {
      "spacing": 3,
      "resolve": {"scale": {"color": "independent"}, "legend": {"color": "independent"}},
      "vconcat": [
       {
        "width": 290, "height": 205, "view": {"fill": "#f0ffff"}, "title": {"text": "Impute", "offset": -25},
        "data": {"name": "B"}, "transform": [{"filter": "datum.p == 'c'"}],
        "encoding": {"x": {"field": "m", "type": "nominal", "sort": ["PAUSE", "LR", "KLD", "Random", "LSV"], "scale": {"paddingInner": 0, "paddingOuter": 0}, "axis": {"title": null}}},
        "layer": [
         {"mark": {"type": "boxplot", "extent": 1.5, "size": 37, "outliers": false, "box": {"fill": "transparent", "stroke": "#8c8c8c", "strokeWidth": 2, "strokeOpacity": 0.8}, "median": {"color": "#8c8c8c", "thickness": 2, "opacity": 0.8}, "rule": {"stroke": "#8c8c8c", "strokeWidth": 2, "opacity": 0.8}, "ticks": {"color": "#8c8c8c", "size": 26, "thickness": 2, "opacity": 0.8}},
          "encoding": {"y": {"field": "v", "type": "quantitative", "scale": {"domain": [1.7595, 2.0524], "nice": false, "zero": false}, "axis": {"values": [1.8, 1.85, 1.9, 1.95, 2.0, 2.05], "format": ".2f", "title": "AUC"}}}},
         {"mark": {"type": "circle", "size": 20, "opacity": 1},
          "encoding": {"y": {"field": "v", "type": "quantitative", "axis": null}, "xOffset": {"field": "r", "type": "nominal", "scale": {"type": "point", "padding": 12, "domain": [6, 2, 9, 4, 1, 8, 3, 10, 5, 7]}}, "color": {"field": "m", "type": "nominal", "scale": {"domain": ["PAUSE", "LR", "KLD", "Random", "LSV"], "range": ["#0173b2", "#029e73", "#d55e00", "#cc78bc", "#ece133"]}, "legend": null}}},
         {"transform": [{"filter": "datum.m != 'PAUSE'"}], "mark": {"type": "text", "text": "**", "fontSize": 13, "baseline": "alphabetic"},
          "encoding": {"y": {"aggregate": "max", "field": "v", "type": "quantitative", "axis": {"orient": "left", "title": "c", "titleAngle": 0, "titleX": -24, "titleY": -6, "titleAlign": "left", "titleBaseline": "alphabetic", "titleFontSize": 30, "titleFontWeight": "bold", "labels": false, "ticks": false, "domain": false}}}}
        ],
        "resolve": {"axis": {"y": "independent"}}
       },
       {
        "width": 290, "height": 189, "view": {"fill": "#f0ffff"}, "title": {"text": "Retrain", "offset": -21},
        "data": {"name": "B"}, "transform": [{"filter": "datum.p == 'f'"}],
        "encoding": {"x": {"field": "m", "type": "nominal", "sort": ["PAUSE", "LR", "KLD", "Random", "LSV"], "scale": {"paddingInner": 0, "paddingOuter": 0}, "axis": {"title": "Pathway Ranking Method"}}},
        "layer": [
         {"mark": {"type": "boxplot", "extent": 1.5, "size": 37, "outliers": false, "box": {"fill": "transparent", "stroke": "#8c8c8c", "strokeWidth": 2, "strokeOpacity": 0.8}, "median": {"color": "#8c8c8c", "thickness": 2, "opacity": 0.8}, "rule": {"stroke": "#8c8c8c", "strokeWidth": 2, "opacity": 0.8}, "ticks": {"color": "#8c8c8c", "size": 26, "thickness": 2, "opacity": 0.8}},
          "encoding": {"y": {"field": "v", "type": "quantitative", "scale": {"domain": [2.3154, 2.8806], "nice": false, "zero": false}, "axis": {"values": [2.4, 2.5, 2.6, 2.7, 2.8], "format": ".1f", "title": "AUC"}}}},
         {"mark": {"type": "circle", "size": 20, "opacity": 1},
          "encoding": {"y": {"field": "v", "type": "quantitative", "axis": null}, "xOffset": {"field": "r", "type": "nominal", "scale": {"type": "point", "padding": 12, "domain": [6, 2, 9, 4, 1, 8, 3, 10, 5, 7]}}, "color": {"field": "m", "type": "nominal", "scale": {"domain": ["PAUSE", "LR", "KLD", "Random", "LSV"], "range": ["#0173b2", "#029e73", "#d55e00", "#cc78bc", "#ece133"]}, "legend": null}}},
         {"transform": [{"filter": "datum.m != 'PAUSE'"}], "mark": {"type": "text", "text": "**", "fontSize": 13, "baseline": "alphabetic"},
          "encoding": {"y": {"aggregate": "max", "field": "v", "type": "quantitative", "axis": {"orient": "left", "title": "f", "titleAngle": 0, "titleX": -23, "titleY": -2, "titleAlign": "left", "titleBaseline": "alphabetic", "titleFontSize": 30, "titleFontWeight": "bold", "labels": false, "ticks": false, "domain": false}}}}
        ],
        "resolve": {"axis": {"y": "independent"}}
       }
      ]
     },
     {
      "spacing": 14,
      "resolve": {"scale": {"color": "independent"}, "legend": {"color": "independent"}},
      "hconcat": [
       {
        "spacing": 0,
        "resolve": {"scale": {"color": "independent"}, "legend": {"color": "independent"}},
        "vconcat": [
         {
          "width": 291, "height": 206, "view": {"fill": "#fffbed"}, "title": {"text": "Impute", "offset": -24},
          "data": {"name": "B"}, "transform": [{"filter": "datum.p == 'd'"}],
          "encoding": {"x": {"field": "m", "type": "nominal", "sort": ["PAUSE", "LR", "KLD", "Random", "LSV"], "scale": {"paddingInner": 0, "paddingOuter": 0}, "axis": {"title": null}}},
          "layer": [
           {"mark": {"type": "boxplot", "extent": 1.5, "size": 37, "outliers": false, "box": {"fill": "transparent", "stroke": "#8c8c8c", "strokeWidth": 2, "strokeOpacity": 0.8}, "median": {"color": "#8c8c8c", "thickness": 2, "opacity": 0.8}, "rule": {"stroke": "#8c8c8c", "strokeWidth": 2, "opacity": 0.8}, "ticks": {"color": "#8c8c8c", "size": 26, "thickness": 2, "opacity": 0.8}},
            "encoding": {"y": {"field": "v", "type": "quantitative", "scale": {"domain": [0.4788, 0.9478], "nice": false, "zero": false}, "axis": {"values": [0.5, 0.6, 0.7, 0.8, 0.9], "format": ".1f", "title": "AUC"}}}},
           {"mark": {"type": "circle", "size": 20, "opacity": 1},
            "encoding": {"y": {"field": "v", "type": "quantitative", "axis": null}, "xOffset": {"field": "r", "type": "nominal", "scale": {"type": "point", "padding": 12, "domain": [6, 2, 9, 4, 1, 8, 3, 10, 5, 7]}}, "color": {"field": "m", "type": "nominal", "scale": {"domain": ["PAUSE", "LR", "KLD", "Random", "LSV"], "range": ["#0173b2", "#029e73", "#d55e00", "#cc78bc", "#ece133"]}, "legend": null}}},
           {"transform": [{"filter": "datum.m != 'PAUSE'"}], "mark": {"type": "text", "text": "**", "fontSize": 13, "baseline": "alphabetic"},
            "encoding": {"y": {"aggregate": "max", "field": "v", "type": "quantitative", "axis": {"orient": "left", "title": "d", "titleAngle": 0, "titleX": -23, "titleY": -5, "titleAlign": "left", "titleBaseline": "alphabetic", "titleFontSize": 30, "titleFontWeight": "bold", "labels": false, "ticks": false, "domain": false}}}}
          ],
          "resolve": {"axis": {"y": "independent"}}
         },
         {
          "width": 291, "height": 189, "view": {"fill": "#fffbed"}, "title": {"text": "Retrain", "offset": -24},
          "data": {"name": "B"}, "transform": [{"filter": "datum.p == 'g'"}],
          "encoding": {"x": {"field": "m", "type": "nominal", "sort": ["PAUSE", "LR", "KLD", "Random", "LSV"], "scale": {"paddingInner": 0, "paddingOuter": 0}, "axis": {"title": "Pathway Ranking Method"}}},
          "layer": [
           {"mark": {"type": "boxplot", "extent": 1.5, "size": 37, "outliers": false, "box": {"fill": "transparent", "stroke": "#8c8c8c", "strokeWidth": 2, "strokeOpacity": 0.8}, "median": {"color": "#8c8c8c", "thickness": 2, "opacity": 0.8}, "rule": {"stroke": "#8c8c8c", "strokeWidth": 2, "opacity": 0.8}, "ticks": {"color": "#8c8c8c", "size": 26, "thickness": 2, "opacity": 0.8}},
            "encoding": {"y": {"field": "v", "type": "quantitative", "scale": {"domain": [1.3847, 2.0565], "nice": false, "zero": false}, "axis": {"values": [1.4, 1.5, 1.6, 1.7, 1.8, 1.9, 2.0], "format": ".1f", "title": "AUC"}}}},
           {"mark": {"type": "circle", "size": 20, "opacity": 1},
            "encoding": {"y": {"field": "v", "type": "quantitative", "axis": null}, "xOffset": {"field": "r", "type": "nominal", "scale": {"type": "point", "padding": 12, "domain": [6, 2, 9, 4, 1, 8, 3, 10, 5, 7]}}, "color": {"field": "m", "type": "nominal", "scale": {"domain": ["PAUSE", "LR", "KLD", "Random", "LSV"], "range": ["#0173b2", "#029e73", "#d55e00", "#cc78bc", "#ece133"]}, "legend": null}}},
           {"transform": [{"filter": "datum.m != 'PAUSE'"}], "mark": {"type": "text", "text": "**", "fontSize": 13, "baseline": "alphabetic"},
            "encoding": {"y": {"aggregate": "max", "field": "v", "type": "quantitative", "axis": {"orient": "left", "title": "g", "titleAngle": 0, "titleX": -21, "titleY": -5, "titleAlign": "left", "titleBaseline": "alphabetic", "titleFontSize": 30, "titleFontWeight": "bold", "labels": false, "ticks": false, "domain": false}}}}
          ],
          "resolve": {"axis": {"y": "independent"}}
         }
        ]
       },
       {
        "spacing": 3,
        "resolve": {"scale": {"color": "independent"}, "legend": {"color": "independent"}},
        "vconcat": [
         {
          "width": 293, "height": 205, "view": {"fill": "#fff0fd"}, "title": {"text": "Impute", "offset": -25},
          "data": {"name": "B"}, "transform": [{"filter": "datum.p == 'e'"}],
          "encoding": {"x": {"field": "m", "type": "nominal", "sort": ["PAUSE", "LR", "KLD", "Random", "LSV"], "scale": {"paddingInner": 0, "paddingOuter": 0}, "axis": {"title": null}}},
          "layer": [
           {"mark": {"type": "boxplot", "extent": 1.5, "size": 37, "outliers": false, "box": {"fill": "transparent", "stroke": "#8c8c8c", "strokeWidth": 2, "strokeOpacity": 0.8}, "median": {"color": "#8c8c8c", "thickness": 2, "opacity": 0.8}, "rule": {"stroke": "#8c8c8c", "strokeWidth": 2, "opacity": 0.8}, "ticks": {"color": "#8c8c8c", "size": 26, "thickness": 2, "opacity": 0.8}},
            "encoding": {"y": {"field": "v", "type": "quantitative", "scale": {"domain": [2.3139, 3.0315], "nice": false, "zero": false}, "axis": {"values": [2.4, 2.5, 2.6, 2.7, 2.8, 2.9, 3.0], "format": ".1f", "title": "AUC"}}}},
           {"mark": {"type": "circle", "size": 20, "opacity": 1},
            "encoding": {"y": {"field": "v", "type": "quantitative", "axis": null}, "xOffset": {"field": "r", "type": "nominal", "scale": {"type": "point", "padding": 12, "domain": [6, 2, 9, 4, 1, 8, 3, 10, 5, 7]}}, "color": {"field": "m", "type": "nominal", "scale": {"domain": ["PAUSE", "LR", "KLD", "Random", "LSV"], "range": ["#0173b2", "#029e73", "#d55e00", "#cc78bc", "#ece133"]}, "legend": null}}},
           {"transform": [{"filter": "datum.m != 'PAUSE'"}], "mark": {"type": "text", "text": "**", "fontSize": 13, "baseline": "alphabetic"},
            "encoding": {"y": {"aggregate": "max", "field": "v", "type": "quantitative", "axis": {"orient": "left", "title": "e", "titleAngle": 0, "titleX": -24, "titleY": -6, "titleAlign": "left", "titleBaseline": "alphabetic", "titleFontSize": 30, "titleFontWeight": "bold", "labels": false, "ticks": false, "domain": false}}}}
          ],
          "resolve": {"axis": {"y": "independent"}}
         },
         {
          "width": 293, "height": 189, "view": {"fill": "#fff0fd"}, "title": {"text": "Retrain", "offset": -21},
          "data": {"name": "B"}, "transform": [{"filter": "datum.p == 'h'"}],
          "encoding": {"x": {"field": "m", "type": "nominal", "sort": ["PAUSE", "LR", "KLD", "Random", "LSV"], "scale": {"paddingInner": 0, "paddingOuter": 0}, "axis": {"title": "Pathway Ranking Method"}}},
          "layer": [
           {"mark": {"type": "boxplot", "extent": 1.5, "size": 37, "outliers": false, "box": {"fill": "transparent", "stroke": "#8c8c8c", "strokeWidth": 2, "strokeOpacity": 0.8}, "median": {"color": "#8c8c8c", "thickness": 2, "opacity": 0.8}, "rule": {"stroke": "#8c8c8c", "strokeWidth": 2, "opacity": 0.8}, "ticks": {"color": "#8c8c8c", "size": 26, "thickness": 2, "opacity": 0.8}},
            "encoding": {"y": {"field": "v", "type": "quantitative", "scale": {"domain": [4.5646, 5.8381], "nice": false, "zero": false}, "axis": {"values": [4.6, 4.8, 5.0, 5.2, 5.4, 5.6, 5.8], "format": ".1f", "title": "AUC"}}}},
           {"mark": {"type": "circle", "size": 20, "opacity": 1},
            "encoding": {"y": {"field": "v", "type": "quantitative", "axis": null}, "xOffset": {"field": "r", "type": "nominal", "scale": {"type": "point", "padding": 12, "domain": [6, 2, 9, 4, 1, 8, 3, 10, 5, 7]}}, "color": {"field": "m", "type": "nominal", "scale": {"domain": ["PAUSE", "LR", "KLD", "Random", "LSV"], "range": ["#0173b2", "#029e73", "#d55e00", "#cc78bc", "#ece133"]}, "legend": null}}},
           {"transform": [{"filter": "datum.m != 'PAUSE'"}], "mark": {"type": "text", "text": "**", "fontSize": 13, "baseline": "alphabetic"},
            "encoding": {"y": {"aggregate": "max", "field": "v", "type": "quantitative", "axis": {"orient": "left", "title": "h", "titleAngle": 0, "titleX": -25, "titleY": -2, "titleAlign": "left", "titleBaseline": "alphabetic", "titleFontSize": 30, "titleFontWeight": "bold", "labels": false, "ticks": false, "domain": false}}}}
          ],
          "resolve": {"axis": {"y": "independent"}}
         }
        ]
       }
      ]
     }
    ]
   }
  ]
 }
]
}
